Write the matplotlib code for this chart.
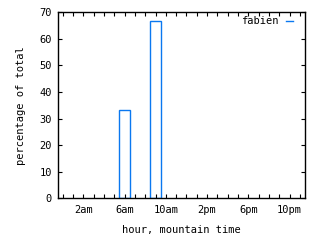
import matplotlib
matplotlib.use("Agg")
import matplotlib.pyplot as plt

hours = [6, 9]
percent = [33.33, 66.67]
tick_hours = [2, 6, 10, 14, 18, 22]
tick_labels = ["2am", "6am", "10am", "2pm", "6pm", "10pm"]
series_name = "fabien"

color = "#0a78f0"
plt.rcParams['font.family'] = ['DejaVu Sans Mono']
fig = plt.figure(figsize=(3.2, 2.4), dpi=100)
ax = fig.add_axes([0.18, 0.173, 0.773, 0.777])

ax.bar(hours, percent, width=1.0, fill=False, edgecolor=color, linewidth=1.0)
ax.set_xlim(-0.5, 23.5)
ax.set_ylim(0, 70)
ax.set_yticks(range(0, 71, 10))
ax.set_xticks(tick_hours)
ax.set_xticklabels(tick_labels)
ax.set_xticks(range(0, 24), minor=True)
ax.tick_params(axis='both', which='both', direction='in', top=True, right=True,
               length=3, width=0.8, labelsize=7.5, pad=5)
ax.tick_params(axis='y', which='major', pad=4)
for s in ax.spines.values():
    s.set_linewidth(1.0)
ax.set_xlabel("hour, mountain time", fontsize=7.5, labelpad=7)
ax.set_ylabel("percentage of total", fontsize=7.5, labelpad=10)

from matplotlib.lines import Line2D
h = [Line2D([0], [0], color=color, lw=1.0)]
leg = ax.legend(h, [series_name], loc='upper right', bbox_to_anchor=(0.97, 1.0),
                frameon=False, fontsize=7.5,
                markerfirst=False, handlelength=0.75, handletextpad=0.7,
                borderaxespad=0.2, borderpad=0.2)

fig.savefig("out.png", dpi=100)
